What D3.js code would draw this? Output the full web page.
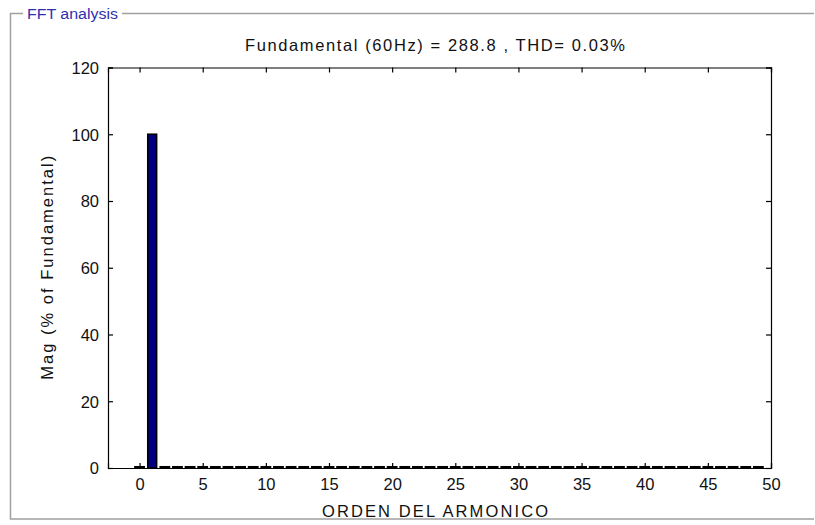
<!DOCTYPE html>
<html>
<head>
<meta charset="utf-8">
<script src="https://cdn.jsdelivr.net/npm/d3@7/dist/d3.min.js"></script>
<style>
  html, body { margin: 0; padding: 0; background: #fff; }
  svg { display: block; font-family: "Liberation Sans", Arial, sans-serif; }
</style>
</head>
<body>
<svg id="chart" width="815" height="525"></svg>
<script>
// Harmonic orders 0..49 and their magnitudes (% of fundamental)
const harmonics = d3.range(0, 50);
const magnitudes = [
  0.004, 100, 0.005, 0.004, 0.005, 0.004, 0.004, 0.004, 0.005, 0.004,
  0.004, 0.004, 0.004, 0.004, 0.004, 0.004, 0.004, 0.004, 0.004, 0.004,
  0.004, 0.004, 0.004, 0.004, 0.004, 0.004, 0.004, 0.004, 0.004, 0.004,
  0.004, 0.004, 0.004, 0.004, 0.004, 0.004, 0.004, 0.004, 0.004, 0.004,
  0.004, 0.004, 0.004, 0.004, 0.004, 0.004, 0.004, 0.004, 0.004, 0.004
];
const xTicks = [0, 5, 10, 15, 20, 25, 30, 35, 40, 45, 50];
const yTicks = [0, 20, 40, 60, 80, 100, 120];
const fundamentalHz = 60;
const fundamentalMag = 288.8;
const thdPercent = 0.03;

const svg = d3.select("#chart");

// Group box frame with caption
const frame = svg.append("g").attr("stroke", "#a0a0a0").attr("stroke-width", 1.5).attr("fill", "none");
frame.append("path").attr("d", "M23,13.5 H10.5 V519 H814");
frame.append("path").attr("d", "M122,13.5 H814");
svg.append("text")
  .attr("x", 27).attr("y", 19)
  .attr("font-size", 14)
  .attr("fill", "#2f2fb0")
  .attr("textLength", 91).attr("lengthAdjust", "spacingAndGlyphs")
  .text("FFT analysis");

// Plot area
const plotL = 108, plotR = 771, plotT = 67.5, plotB = 468;
const x = d3.scaleLinear().domain([-2.5, 50]).range([plotL, plotR]);
const y = d3.scaleLinear().domain([0, 120]).range([plotB, plotT]);
const barW = x(0.7) - x(0);

const data = harmonics.map((h, i) => ({ h, v: magnitudes[i] }));

// Axes (ticks pointing inward, box on)
const tickLen = 5;
const axB = svg.append("g").attr("transform", `translate(0,${plotB})`)
  .call(d3.axisBottom(x).tickValues(xTicks).tickSize(-tickLen).tickPadding(10));
const axT = svg.append("g").attr("transform", `translate(0,${plotT})`)
  .call(d3.axisTop(x).tickValues(xTicks).tickSize(-tickLen).tickFormat(""));
const axL = svg.append("g").attr("transform", `translate(${plotL},0)`)
  .call(d3.axisLeft(y).tickValues(yTicks).tickSize(-tickLen).tickPadding(9));
const axR = svg.append("g").attr("transform", `translate(${plotR},0)`)
  .call(d3.axisRight(y).tickValues(yTicks).tickSize(-tickLen).tickFormat(""));

[axB, axT, axL, axR].forEach(a => {
  a.select(".domain").attr("stroke", "#000").attr("stroke-width", 1.2);
  a.selectAll(".tick line").attr("stroke", "#000").attr("stroke-width", 1.2);
  a.selectAll("text")
    .attr("font-size", 16.5)
    .attr("fill", "#111")
    .attr("font-family", "Liberation Sans, Arial, sans-serif");
});
axB.selectAll(".tick text").attr("dy", "0.71em");
axL.selectAll(".tick text").attr("dy", "0.36em");

// Harmonic bars, outlined in black so near-zero orders still show on the baseline
svg.append("g").selectAll("rect")
  .data(data)
  .join("rect")
  .attr("x", d => x(d.h) - barW / 2)
  .attr("y", d => y(d.v) - (d.v > 1 ? 0 : 1))
  .attr("width", barW)
  .attr("height", d => Math.max(0.01, y(0) - y(d.v)))
  .attr("fill", "#000080")
  .attr("stroke", "#000")
  .attr("stroke-width", d => d.v > 1 ? 1.6 : 2);

// Title
svg.append("text")
  .attr("x", 435).attr("y", 50.5)
  .attr("text-anchor", "middle")
  .attr("font-size", 16.5)
  .attr("fill", "#111")
  .attr("textLength", 380).attr("lengthAdjust", "spacing")
  .text(`Fundamental (${fundamentalHz}Hz) = ${fundamentalMag} , THD= ${thdPercent.toFixed(2)}%`);

// Axis labels
svg.append("text")
  .attr("x", 435).attr("y", 517)
  .attr("text-anchor", "middle")
  .attr("font-size", 16.5)
  .attr("fill", "#111")
  .attr("textLength", 226).attr("lengthAdjust", "spacing")
  .text("ORDEN DEL ARMONICO");

svg.append("text")
  .attr("transform", `translate(53,${(plotT + plotB) / 2}) rotate(-90)`)
  .attr("text-anchor", "middle")
  .attr("font-size", 16.5)
  .attr("fill", "#111")
  .attr("textLength", 224).attr("lengthAdjust", "spacing")
  .text("Mag (% of Fundamental)");
</script>
</body>
</html>
